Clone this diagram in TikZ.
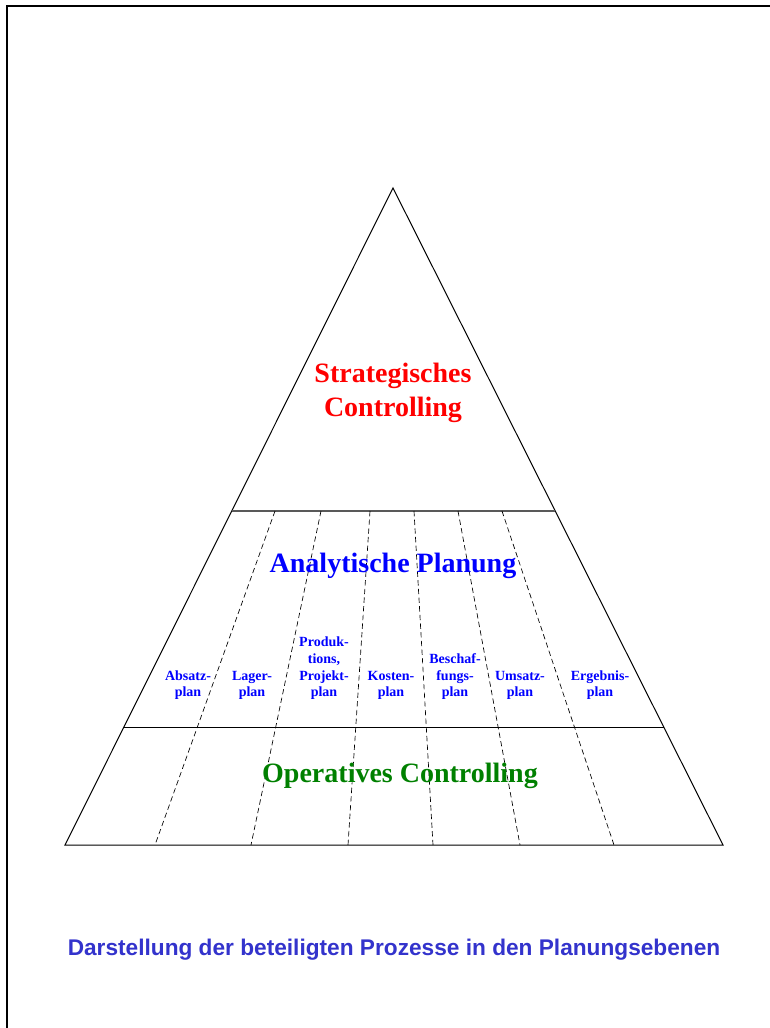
\documentclass[tikz,border=0pt]{standalone}
\usepackage{fontspec}
\setmainfont{Liberation Serif}
\newfontfamily\captionsans{Liberation Sans}
\usepackage{xcolor}
\definecolor{plred}{RGB}{255,0,0}
\definecolor{plblue}{RGB}{0,0,255}
\definecolor{plgreen}{RGB}{0,128,0}
\definecolor{plcaption}{RGB}{51,51,204}
\usepackage{tikz}
\usetikzlibrary{calc}

\begin{document}
\begin{tikzpicture}[
  x=0.75pt, y=-0.75pt,
  levellabel/.style={font=\fontsize{21}{25}\selectfont\bfseries, align=center},
  planlabel/.style={font=\fontsize{10.5}{12.5}\selectfont\bfseries, text=plblue,
                    align=center, inner sep=0pt, anchor=south},
  divline/.style={black, line width=0.5pt, dash pattern=on 4pt off 2.5pt}
]
\useasboundingbox (0,0) rectangle (770,1028);

% Frame (top and left edge)
\draw[line width=1.5pt] (7,1028) -- (7,6) -- (770,6);

% --- Pyramid ---
\coordinate (apex) at (393,188);
\coordinate (bl) at (65,845);
\coordinate (br) at (723,845);
\draw[line width=0.75pt] (bl) -- (apex) -- (br) -- cycle;

% Level borders
\coordinate (upl) at ($(apex)!0.4916!(bl)$);
\coordinate (upr) at ($(apex)!0.4916!(br)$);
\coordinate (lowl) at ($(apex)!0.8219!(bl)$);
\coordinate (lowr) at ($(apex)!0.8219!(br)$);
\draw[black!65, line width=1.2pt] (upl) -- (upr);
\draw[line width=0.75pt] (lowl) -- (lowr);

% Dashed dividers of the plans
\foreach \xa/\xb in {275/155, 321/251, 370/348, 414/433, 458/520, 502/614}
  \draw[divline] (\xa,511) -- (\xb,845);

% --- Level texts ---
\node[levellabel, text=plred] (strat) at (393,393) {Strategisches\\Controlling};
\node[levellabel, text=plblue] (analyt) at (393,566) {Analytische Planung};
\node[levellabel, text=plgreen] (operat) at (400,776) {Operatives Controlling};

% --- Plans ---
\node[planlabel] (absatz) at (188,700) {Absatz-\\plan};
\node[planlabel] (lager) at (252,700) {Lager-\\plan};
\node[planlabel] (produkt) at (324,700) {Produk-\\tions,\\Projekt-\\plan};
\node[planlabel] (kosten) at (391,700) {Kosten-\\plan};
\node[planlabel] (beschaf) at (455,700) {Beschaf-\\fungs-\\plan};
\node[planlabel] (umsatz) at (520,700) {Umsatz-\\plan};
\node[planlabel] (ergebnis) at (600,700) {Ergebnis-\\plan};

% Caption
\node[font=\captionsans\fontsize{17}{20}\selectfont\bfseries, text=plcaption]
      (caption) at (394,950) {Darstellung der beteiligten Prozesse in den Planungsebenen};

\end{tikzpicture}
\end{document}
